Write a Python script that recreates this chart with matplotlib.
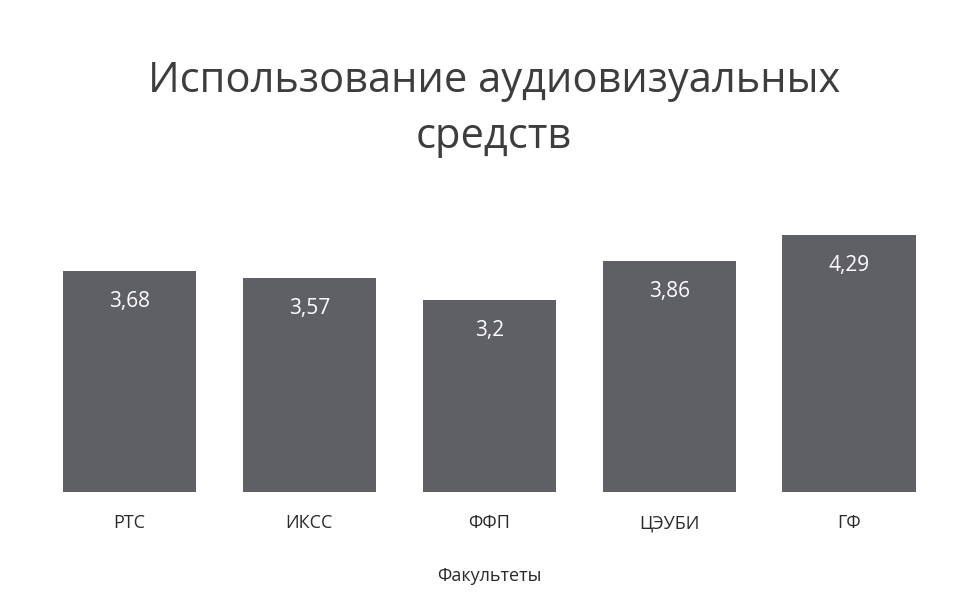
import matplotlib.pyplot as plt

plt.rcParams['font.family'] = ['Open Sans', 'DejaVu Sans']

faculties = ['РТС', 'ИКСС', 'ФФП', 'ЦЭУБИ', 'ГФ']
scores = [3.68, 3.57, 3.2, 3.86, 4.29]
labels = ['3,68', '3,57', '3,2', '3,86', '4,29']

fig = plt.figure(figsize=(9.63, 5.97), dpi=100)
ax = fig.add_axes([0.041, 0.176, 0.934, 0.502])

bars = ax.bar(range(len(faculties)), scores, width=0.74, color='#5f5f66')
for b, txt in zip(bars, labels):
    ax.annotate(txt, (b.get_x() + b.get_width() / 2, b.get_height()),
                xytext=(0, -22), textcoords='offset points', ha='center',
                va='center', color='white', fontsize=15)

ax.set_xlim(-0.5, 4.5)
ax.set_ylim(0, 5)
ax.set_xticks(range(len(faculties)))
ax.set_xticklabels(faculties, fontsize=13, color='#2a2a2a')
ax.tick_params(axis='x', length=0, pad=16)
ax.set_yticks([])
for s in ax.spines.values():
    s.set_visible(False)
ax.set_xlabel('Факультеты', fontsize=13, color='#2a2a2a', labelpad=25)

fig.text(0.513, 0.817, 'Использование аудиовизуальных\nсредств', ha='center',
         va='center', fontsize=30, color='#3d3d3d', linespacing=1.45)

fig.savefig('out.png', dpi=100)
